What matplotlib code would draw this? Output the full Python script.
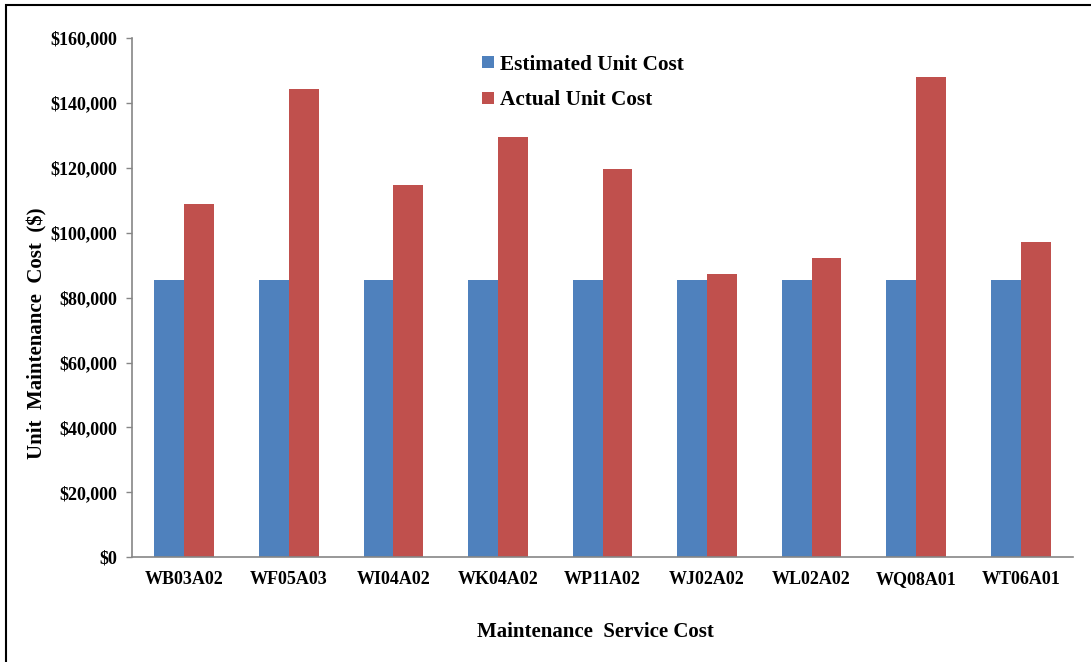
import numpy as np
import matplotlib
matplotlib.use("Agg")
import matplotlib.pyplot as plt
from matplotlib.patches import Rectangle
from matplotlib.ticker import FuncFormatter, MultipleLocator

# ── DANE ─────────────────────────────────────────────────────────────────────
codes     = ["WB03A02", "WF05A03", "WI04A02", "WK04A02", "WP11A02",
             "WJ02A02", "WL02A02", "WQ08A01", "WT06A01"]
estimated = [85300, 85300, 85300, 85300, 85300, 85300, 85300, 85300, 85300]
actual    = [109000, 144300, 114800, 129400, 119700, 87400, 92300, 147900, 97100]

BLUE  = "#4F81BD"
RED   = "#C0504D"
AXISC = "#868686"

plt.rcParams["font.family"] = ["Liberation Serif", "DejaVu Serif"]
plt.rcParams["font.weight"] = "bold"

W, H = 1091, 662
fig = plt.figure(figsize=(W / 100, H / 100), dpi=100)
ax = fig.add_axes([132 / W, 1 - 557.3 / H, (1073 - 132) / W, (557.3 - 38) / H])

x = np.arange(len(codes))
bw = 1 / 3.5   # gap width 150%
ax.bar(x - bw / 2, estimated, bw, color=BLUE, label="Estimated Unit Cost")
ax.bar(x + bw / 2, actual, bw, color=RED, label="Actual Unit Cost")

ax.set_xlim(-0.5, len(codes) - 0.5)
ax.set_ylim(0, 160000)
ax.yaxis.set_major_locator(MultipleLocator(20000))
ax.yaxis.set_major_formatter(FuncFormatter(lambda v, _: f"${v:,.0f}"))

ax.set_xticks(x)
ax.set_xticklabels(codes)
ax.tick_params(axis="x", length=0, pad=10, labelsize=13)
ax.tick_params(axis="y", length=4.5, width=1, color=AXISC, pad=6, labelsize=13)

for s in ("top", "right"):
    ax.spines[s].set_visible(False)
for s in ("left", "bottom"):
    ax.spines[s].set_color(AXISC)
    ax.spines[s].set_linewidth(1.2)

ax.set_xlabel("Maintenance  Service Cost", fontsize=15, fontweight="bold", labelpad=24)
ax.set_ylabel("Unit  Maintenance  Cost  ($)", fontsize=15, fontweight="bold", labelpad=2)
ax.xaxis.label.set_x(0.492)
ax.yaxis.label.set_y(0.432)

ax.legend(loc="upper left", bbox_to_anchor=(0.352, 1.005), frameon=False,
          fontsize=15.3, handlelength=0.55, handleheight=0.55, handletextpad=0.3,
          labelspacing=0.75)

# ramka wokol calego wykresu
fig.patches.append(Rectangle((6 / W, -0.05), 1.2, 1 - 5 / H + 0.05,
                             transform=fig.transFigure, fill=False,
                             edgecolor="black", linewidth=1.5))

fig.savefig("out.png", dpi=100)
